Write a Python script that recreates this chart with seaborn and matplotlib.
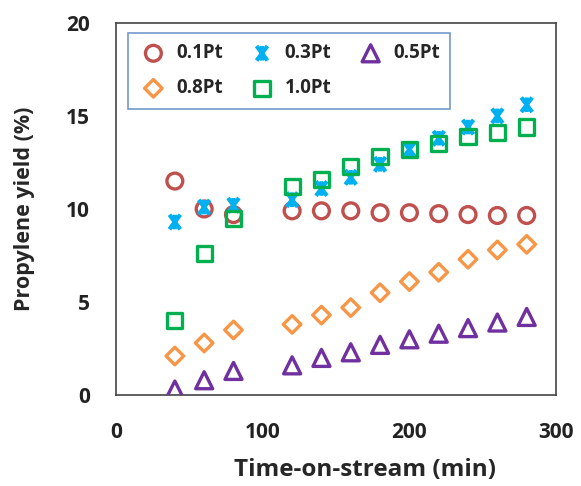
import matplotlib
matplotlib.use("Agg")
import matplotlib.pyplot as plt
from matplotlib.path import Path
import seaborn as sns
import pandas as pd

time_min = [40, 60, 80, 120, 140, 160, 180, 200, 220, 240, 260, 280]
pt01 = [11.5, 10.0, 9.7, 9.9, 9.9, 9.9, 9.8, 9.8, 9.75, 9.7, 9.65, 9.65]
pt03 = [9.3, 10.1, 10.2, 10.5, 11.1, 11.7, 12.4, 13.2, 13.8, 14.4, 15.0, 15.6]
pt05 = [0.3, 0.8, 1.3, 1.6, 2.0, 2.3, 2.7, 3.0, 3.3, 3.6, 3.9, 4.2]
pt08 = [2.1, 2.8, 3.5, 3.8, 4.3, 4.7, 5.5, 6.1, 6.6, 7.3, 7.8, 8.1]
pt10 = [4.0, 7.6, 9.5, 11.2, 11.6, 12.3, 12.8, 13.2, 13.5, 13.9, 14.1, 14.4]

series_names = ["0.1Pt", "0.3Pt", "0.5Pt", "0.8Pt", "1.0Pt"]
series_vals = [pt01, pt03, pt05, pt08, pt10]
colors = ["#C0504D", "#00B0F0", "#7030A0", "#F79646", "#00B050"]

# Excel-style star: an X plus a vertical bar
star = Path([(-0.75, -1), (0.75, 1), (-0.75, 1), (0.75, -1), (0, -1), (0, 1)],
            [Path.MOVETO, Path.LINETO, Path.MOVETO, Path.LINETO, Path.MOVETO, Path.LINETO])
markers = ["o", star, "^", "D", "s"]
sizes = [130, 110, 150, 80, 120]

sns.set_theme(style="white")
plt.rcParams["font.family"] = ["Open Sans", "DejaVu Sans"]
plt.rcParams["font.weight"] = "bold"

fig = plt.figure(figsize=(5.81, 4.86), dpi=100)
ax = fig.add_axes([0.2, 0.187, 0.757, 0.766])

for name, vals, c, m, s in zip(series_names, series_vals, colors, markers, sizes):
    df = pd.DataFrame({"t": time_min, "y": vals})
    if isinstance(m, Path):
        sns.scatterplot(data=df, x="t", y="y", marker=m, s=s, facecolors="none",
                        edgecolor=c, linewidth=3.0, ax=ax, label=name, zorder=3)
    else:
        sns.scatterplot(data=df, x="t", y="y", marker=m, s=s, facecolors="none",
                        edgecolor=c, linewidth=2.4, ax=ax, label=name, zorder=3)

ax.set_xlim(0, 300)
ax.set_ylim(0, 20)
ax.set_xticks([0, 100, 200, 300])
ax.set_yticks([0, 5, 10, 15, 20])
ax.tick_params(direction="inout", length=8, width=1, labelsize=15, colors="#222222",
               pad=15)
for lab in ax.get_xticklabels() + ax.get_yticklabels():
    lab.set_fontweight("bold")
for sp in ax.spines.values():
    sp.set_color("#444444")
    sp.set_linewidth(1.2)
ax.set_xlabel("Time-on-stream (min)", fontsize=17.5, fontweight="bold")
ax.set_ylabel("Propylene yield (%)", fontsize=15.5, fontweight="bold")
ax.xaxis.set_label_coords(0.566, -0.2016)
ax.xaxis.label.set_verticalalignment("center")
ax.yaxis.set_label_coords(-0.209, 0.5)
ax.yaxis.label.set_verticalalignment("center")

h, l = ax.get_legend_handles_labels()
order = [0, 3, 1, 4, 2]
leg = ax.legend([h[i] for i in order], [l[i] for i in order], ncol=3,
                loc="upper left", bbox_to_anchor=(0.027, 0.973), borderaxespad=0,
                frameon=True, fancybox=False, fontsize=13.5, handletextpad=0.4,
                columnspacing=1.3, borderpad=0.55, labelspacing=0.8, handlelength=1.6)
leg.get_frame().set_edgecolor("#4F81BD")
leg.get_frame().set_linewidth(1.2)
for t in leg.get_texts():
    t.set_fontweight("bold")

fig.savefig("out.png", dpi=100)
